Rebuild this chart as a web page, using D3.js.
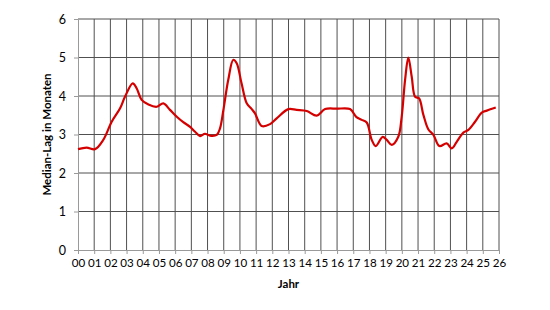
<!DOCTYPE html>
<html>
<head>
<meta charset="utf-8">
<script src="https://cdn.jsdelivr.net/npm/d3@7"></script>
<style>
  body { margin: 0; background: #fff; }
  svg { display: block; font-family: Lato, "Open Sans", sans-serif; }
</style>
</head>
<body>
<svg width="550" height="310"></svg>
<script>
const width = 550;
const height = 310;
const margin = { top: 19, right: 51, bottom: 60, left: 78 };

// Jahr (Jahre seit 2000) / Median-Lag in Monaten
const years = [0, 0.53, 1.05, 1.56, 2.08, 2.6, 2.9, 3.38, 3.62, 3.93, 4.35, 4.86, 5.27, 5.68, 6.1, 6.5, 6.92, 7.23, 7.54, 7.84, 8.15, 8.57,
  8.77, 8.98, 9.28, 9.59, 9.8, 10.1, 10.42, 10.73, 10.93, 11.35, 11.86, 12.27, 12.99, 13.5, 14.13, 14.74, 15.26, 15.98, 16.8,
  17.2, 17.52, 17.83, 18.14, 18.39, 18.82, 19.07, 19.38, 19.78, 19.99, 20.2, 20.4, 20.61, 20.82, 21.06, 21.33, 21.64, 21.95,
  22.32, 22.77, 23.08, 23.39, 23.8, 24.11, 24.52, 24.94, 25.25, 25.8];
const lag = [2.62, 2.66, 2.62, 2.86, 3.33, 3.68, 3.98, 4.33, 4.2, 3.9, 3.78, 3.72, 3.81, 3.64, 3.46, 3.32, 3.2, 3.07, 2.96, 3.02, 2.97, 2.99,
  3.16, 3.64, 4.42, 4.94, 4.85, 4.33, 3.81, 3.66, 3.55, 3.22, 3.27, 3.42, 3.66, 3.64, 3.61, 3.49, 3.66, 3.67, 3.66,
  3.45, 3.38, 3.31, 2.86, 2.70, 2.94, 2.86, 2.73, 2.94, 3.46, 4.42, 5.0, 4.5, 3.98, 3.94, 3.51, 3.13, 2.99,
  2.70, 2.77, 2.64, 2.81, 3.05, 3.12, 3.33, 3.57, 3.62, 3.7];
const xTicks = d3.range(0, 27);
const yTicks = [0, 1, 2, 3, 4, 5, 6];

const data = years.map((t, i) => ({ t, v: lag[i] }));

const svg = d3.select("svg");

const xScale = d3.scaleLinear().domain([0, 26]).range([margin.left, width - margin.right]);
const yScale = d3.scaleLinear().domain([0, 6]).range([height - margin.bottom, margin.top]);

// gitter
svg.append("g")
  .selectAll("line")
  .data(xTicks.slice(1))
  .enter()
  .append("line")
  .attr("x1", d => xScale(d)).attr("x2", d => xScale(d))
  .attr("y1", yScale(6)).attr("y2", yScale(0))
  .attr("stroke", "#505050").attr("stroke-width", 1);

svg.append("g")
  .selectAll("line")
  .data(yTicks.slice(1))
  .enter()
  .append("line")
  .attr("x1", xScale(0)).attr("x2", xScale(26))
  .attr("y1", d => yScale(d)).attr("y2", d => yScale(d))
  .attr("stroke", "#505050").attr("stroke-width", 1);

const xAxis = d3.axisBottom(xScale).tickValues(xTicks).tickFormat(d3.format("02d")).tickSize(4).tickSizeOuter(0);
const yAxis = d3.axisLeft(yScale).tickValues(yTicks).tickFormat(d3.format("d")).tickSize(4).tickSizeOuter(0);

const gx = svg.append("g").attr("transform", `translate(${[0, yScale(0)]})`).call(xAxis);
const gy = svg.append("g").attr("transform", `translate(${[xScale(0), 0]})`).call(yAxis);

[gx, gy].forEach(g => {
  g.selectAll(".domain").attr("stroke", "#9a9a9a");
  g.selectAll(".tick line").attr("stroke", "#9a9a9a");
  g.selectAll("text").attr("fill", "#000").style("font-family", "Lato, sans-serif");
});
gx.selectAll("text").style("font-size", "11.6px").attr("dy", "0.71em").attr("y", 9);
gy.selectAll("text").style("font-size", "12.5px").attr("x", -12);

const line = d3.line()
  .x(d => xScale(d.t))
  .y(d => yScale(d.v))
  .curve(d3.curveCatmullRom.alpha(0.5));

svg.append("path")
  .datum(data)
  .attr("fill", "none")
  .attr("stroke", "#d40000")
  .attr("stroke-width", 2.2)
  .attr("stroke-linejoin", "round")
  .attr("d", line);

svg.append("text")
  .attr("x", (xScale(0) + xScale(26)) / 2)
  .attr("y", 288)
  .attr("text-anchor", "middle")
  .style("font-size", "11.5px")
  .style("font-weight", "bold")
  .text("Jahr");

svg.append("text")
  .attr("transform", `translate(${[51, (yScale(0) + yScale(6)) / 2]}) rotate(-90)`)
  .attr("text-anchor", "middle")
  .style("font-size", "11.5px")
  .style("font-weight", "bold")
  .text("Median-Lag in Monaten");
</script>
</body>
</html>
